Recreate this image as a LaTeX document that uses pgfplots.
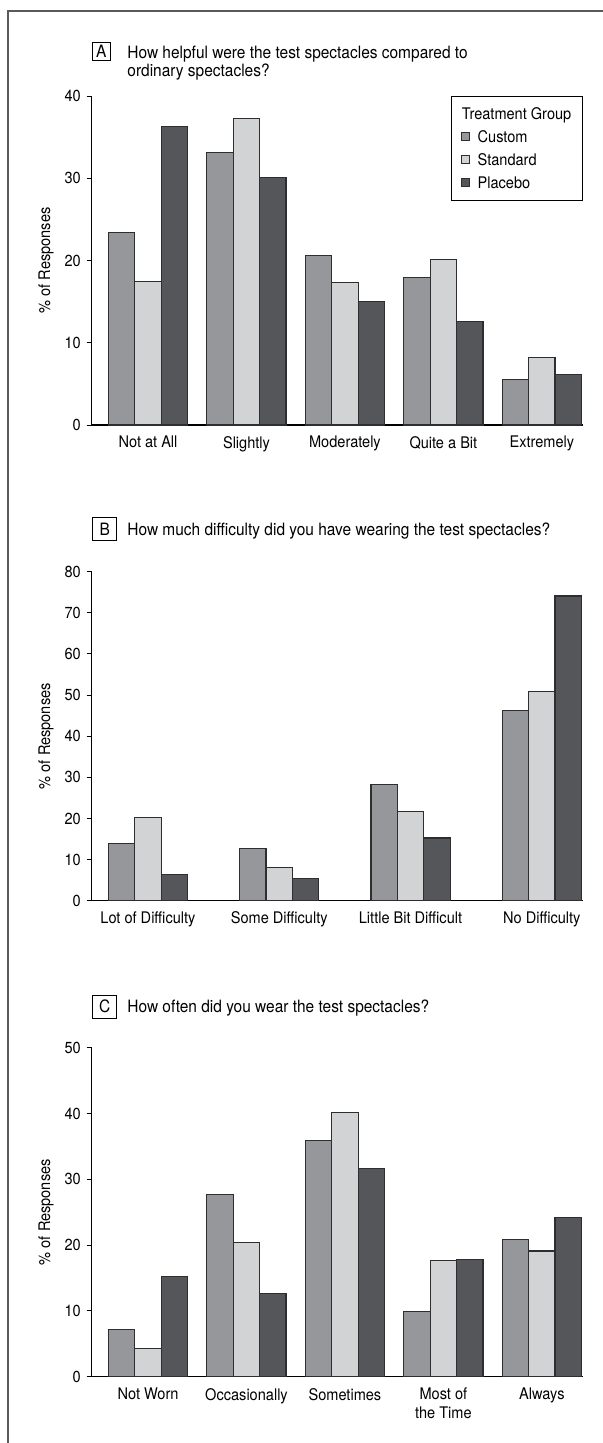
\documentclass[border=0pt]{standalone}
\usepackage{fontspec}
\setmainfont{TeX Gyre Heros}[FakeStretch=0.91]
\usepackage{pgfplots}
\pgfplotsset{compat=1.18}
\definecolor{cCus}{HTML}{96979B}
\definecolor{cStd}{HTML}{D2D3D5}
\definecolor{cPla}{HTML}{55565A}
\definecolor{cEdge}{HTML}{2E2E30}
\definecolor{cFrame}{HTML}{5A5A5A}

\newcommand{\tfont}{\fontsize{8.5}{10}\selectfont}
\pgfplotsset{
  panel/.style={
    scale only axis, width=245.5pt, height=164.5pt,
    anchor=south west,
    axis lines*=left,
    axis line style={line width=0.55pt, black},
    ymin=0,
    xtick style={draw=none},
    ytick style={line width=0.5pt, black},
    tick align=outside, major tick length=2.5pt,
    /pgf/number format/assume math mode=true,
    tick label style={font=\fontsize{8}{9.5}\selectfont},
    xticklabel style={align=center, yshift=-0.3pt},
    ylabel={\% of Responses},
    ylabel style={at={(axis description cs:-0.0927,0.5)}, anchor=center, font=\fontsize{8}{9.5}\selectfont},
  },
  bC/.style={ybar, fill=cCus, draw=cEdge, line width=0.6pt},
  bS/.style={ybar, fill=cStd, draw=cEdge, line width=0.6pt},
  bP/.style={ybar, fill=cPla, draw=cEdge, line width=0.6pt},
}

\begin{document}
\fontsize{8}{9.5}\selectfont
\begin{tikzpicture}
\path[use as bounding box] (0,0) rectangle (301pt,-721.5pt);
\draw[line width=1pt, cFrame] (4pt,-722pt) -- (4pt,-5.5pt) -- (302pt,-5.5pt);

% ---------- Panel A ----------
\node[draw, line width=0.5pt, minimum width=9pt, minimum height=9pt, inner sep=0pt, font=\tfont] at (50.6pt,-25.75pt) {A};
\node[anchor=base west, inner sep=0pt, font=\tfont] at (63.5pt,-29.5pt) {How helpful were the test spectacles compared to};
\node[anchor=base west, inner sep=0pt, font=\tfont] at (63.5pt,-38.25pt) {ordinary spectacles?};

\begin{axis}[panel, at={(45.75pt,-212.5pt)},
  xmin=-0.574, xmax=4.413, ymax=40, ytick={0,10,20,30,40},
  xtick={0,1,2,3,4},
  xticklabels={Not at All, Slightly, Moderately, Quite a Bit, Extremely},
  legend cell align=left,
  legend style={at={(1,1)}, anchor=north east, draw=black, line width=0.5pt,
    inner xsep=4.85pt, inner ysep=5pt, row sep=3.95pt, column sep=3.35pt,
    nodes={inner sep=0.5pt, text height=6pt, text depth=0.5pt},
    font=\fontsize{8}{9.5}\selectfont},
]
\addlegendimage{empty legend}
\addlegendentry{\hspace*{-7.85pt}Treatment Group}
\addplot[bC, bar width=0.268, bar shift=-0.268,
  legend image code/.code={\draw[fill=cCus, draw=cEdge, line width=0.5pt] (0pt,-2pt) rectangle (4pt,2pt);}]
  coordinates {(0,23.4) (1,33.1) (2,20.6) (3,17.9) (4,5.55)};
\addlegendentry{Custom}
\addplot[bS, bar width=0.268, bar shift=0,
  legend image code/.code={\draw[fill=cStd, draw=cEdge, line width=0.5pt] (0pt,-2pt) rectangle (4pt,2pt);}]
  coordinates {(0,17.4) (1,37.3) (2,17.35) (3,20.1) (4,8.2)};
\addlegendentry{Standard}
\addplot[bP, bar width=0.268, bar shift=0.268,
  legend image code/.code={\draw[fill=cPla, draw=cEdge, line width=0.5pt] (0pt,-2pt) rectangle (4pt,2pt);}]
  coordinates {(0,36.3) (1,30.05) (2,15.0) (3,12.6) (4,6.15)};
\addlegendentry{Placebo}
\end{axis}

% ---------- Panel B ----------
\node[draw, line width=0.5pt, minimum width=12pt, minimum height=11.5pt, inner sep=0pt, font=\tfont] at (52.35pt,-264.65pt) {B};
\node[anchor=base west, inner sep=0pt, font=\tfont] at (63.5pt,-267.85pt) {How much difficulty did you have wearing the test spectacles?};

\begin{axis}[panel, at={(45.75pt,-450.35pt)},
  xmin=-0.430, xmax=3.31, ymax=80, ytick={0,10,...,80},
  xtick={0,1,2,3},
  xticklabels={Lot of Difficulty, Some Difficulty, Little Bit Difficult, No Difficulty},
]
\addplot[bC, bar width=0.201, bar shift=-0.201]
  coordinates {(0,13.95) (1,12.6) (2,28.3) (3,46.3)};
\addplot[bS, bar width=0.201, bar shift=0]
  coordinates {(0,20.3) (1,8.1) (2,21.75) (3,50.9)};
\addplot[bP, bar width=0.201, bar shift=0.201]
  coordinates {(0,6.4) (1,5.35) (2,15.25) (3,74.1)};
\end{axis}

% ---------- Panel C ----------
\node[draw, line width=0.5pt, minimum width=12pt, minimum height=11.5pt, inner sep=0pt, font=\tfont] at (52.35pt,-503.25pt) {C};
\node[anchor=base west, inner sep=0pt, font=\tfont] at (63.5pt,-506.35pt) {How often did you wear the test spectacles?};

\begin{axis}[panel, at={(45.75pt,-688.35pt)},
  xmin=-0.574, xmax=4.413, ymax=50, ytick={0,10,...,50},
  xtick={0,1,2,3,4},
  xticklabels={Not Worn, Occasionally, Sometimes, {Most of\\the Time}, Always},
]
\addplot[bC, bar width=0.268, bar shift=-0.268]
  coordinates {(0,7.2) (1,27.7) (2,35.9) (3,9.95) (4,20.9)};
\addplot[bS, bar width=0.268, bar shift=0]
  coordinates {(0,4.25) (1,20.4) (2,40.2) (3,17.7) (4,19.1)};
\addplot[bP, bar width=0.268, bar shift=0.268]
  coordinates {(0,15.2) (1,12.7) (2,31.6) (3,17.85) (4,24.2)};
\end{axis}
\end{tikzpicture}
\end{document}
